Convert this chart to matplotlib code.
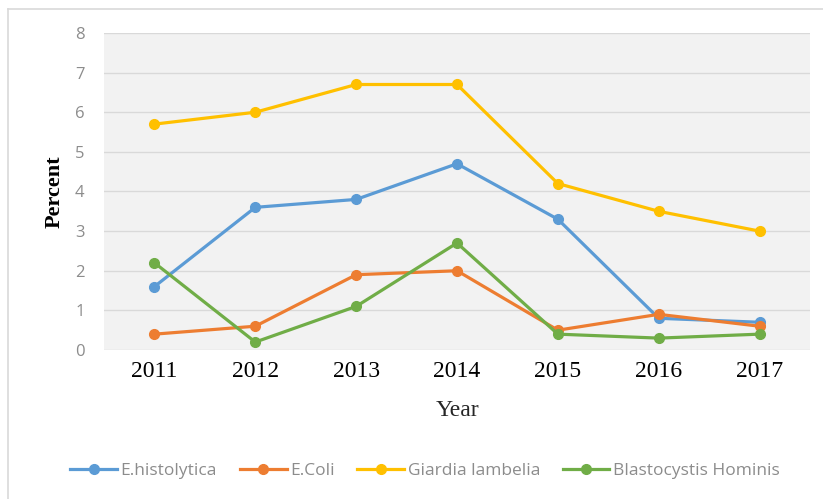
import matplotlib.pyplot as plt
from matplotlib.lines import Line2D

years = ['2011', '2012', '2013', '2014', '2015', '2016', '2017']
histolytica = [1.6, 3.6, 3.8, 4.7, 3.3, 0.8, 0.7]
ecoli = [0.4, 0.6, 1.9, 2.0, 0.5, 0.9, 0.6]
giardia = [5.7, 6.0, 6.7, 6.7, 4.2, 3.5, 3.0]
blasto = [2.2, 0.2, 1.1, 2.7, 0.4, 0.3, 0.4]

names = ['E.histolytica', 'E.Coli', 'Giardia lambelia', 'Blastocystis Hominis']
colors = ['#5B9BD5', '#ED7D31', '#FFC000', '#70AD47']

fig = plt.figure(figsize=(8.23, 4.99), dpi=100)
ax = fig.add_axes([0.1264, 0.2986, 0.8578, 0.6353])
ax.set_facecolor('#f2f2f2')

x = range(len(years))
for vals, name, c in zip([histolytica, ecoli, giardia, blasto], names, colors):
    ax.plot(x, vals, color=c, lw=2.3, marker='o', markersize=7, label=name,
            clip_on=False, zorder=3)

ax.set_xlim(-0.5, 6.5)
ax.set_ylim(0, 8)
ax.set_yticks(range(0, 9))
ax.set_xticks(list(x))
ax.set_xticklabels(years, fontfamily='Liberation Serif', fontsize=17, color='black')
ax.tick_params(axis='x', length=0, pad=8)
ax.tick_params(axis='y', length=0, pad=14, labelsize=12, labelcolor='#8c8c8c')
for lab in ax.get_yticklabels():
    lab.set_fontfamily('Open Sans')
ax.grid(axis='y', color='#d9d9d9', lw=1)
ax.set_axisbelow(True)
for s in ax.spines.values():
    s.set_visible(False)

ax.set_xlabel('Year', fontfamily='Liberation Serif', fontsize=17, color='#262626',
              labelpad=13)
fig.text(55 / 823, 1 - 192 / 499, 'Percent', rotation=90, ha='center', va='center',
         fontfamily='Liberation Serif', fontsize=16, fontweight='bold', color='black')

handles = [Line2D([], [], color=c, lw=2.3, marker='o', markersize=7) for c in colors]
fig.legend(handles, names, loc='center', bbox_to_anchor=(425 / 823, 1 - 471 / 499),
           ncol=4, frameon=False, prop={'family': 'Open Sans', 'size': 12.5},
           labelcolor='#8c8c8c', handlelength=2.7, handletextpad=0.2, columnspacing=1.3)

# outer frame
fig.add_artist(Line2D([8 / 823, 1], [1 - 9 / 499, 1 - 9 / 499], color='#d9d9d9', lw=1.2))
fig.add_artist(Line2D([8 / 823, 8 / 823], [0, 1 - 9 / 499], color='#d9d9d9', lw=1.2))

fig.savefig('out.png', dpi=100)
